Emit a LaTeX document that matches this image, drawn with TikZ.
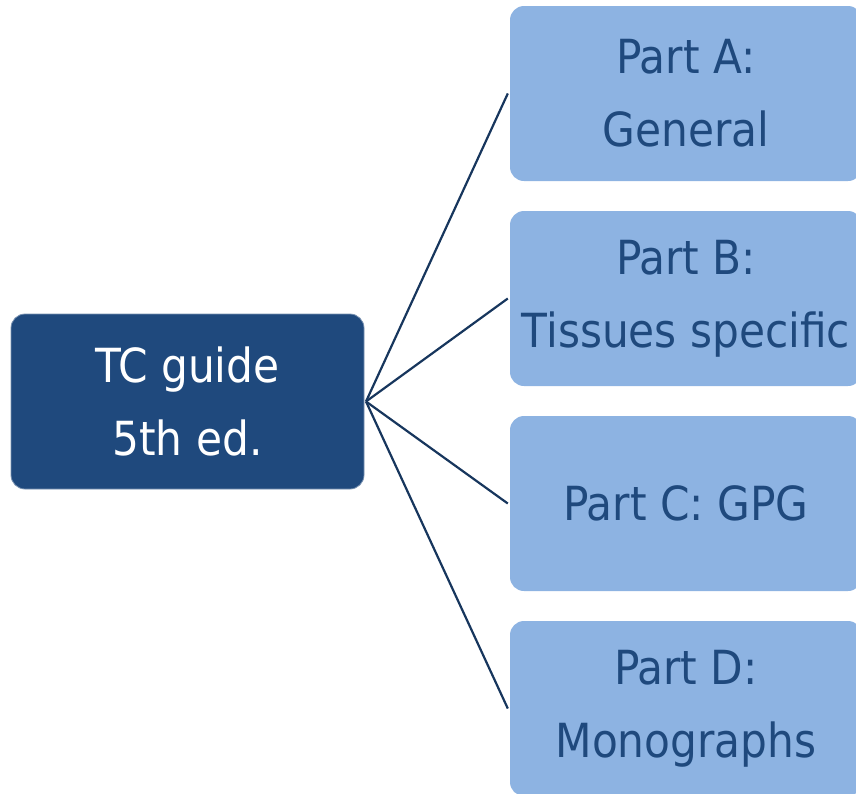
\documentclass[tikz,border=0pt]{standalone}
\usepackage{fontspec}
\setmainfont{DejaVu Sans Condensed}
\definecolor{darkbox}{RGB}{31,73,125}
\definecolor{lightbox}{RGB}{141,179,226}
\definecolor{linecol}{RGB}{23,54,93}
\begin{document}
\begin{tikzpicture}[x=1pt,y=-1pt,
  rootbox/.style={fill=darkbox, draw=darkbox!60!white, line width=0.8pt, rounded corners=14pt, minimum width=353pt, minimum height=175pt, text=white, align=center, inner sep=0pt, font=\fontsize{47}{73}\selectfont},
  partbox/.style={fill=lightbox, rounded corners=14pt, minimum width=352pt, minimum height=175pt, text=darkbox, align=center, inner sep=0pt, font=\fontsize{47}{73}\selectfont},
  link/.style={draw=linecol, line width=2.2pt}]
\useasboundingbox (0,0) rectangle (856,793);
\node[rootbox] (root) at (187.5,401.5) {TC guide\\5th ed.};
\node[partbox] (a) at (686,93.5) {Part A:\\General};
\node[partbox] (b) at (686,298.5) {Part B:\\Tissues specific};
\node[partbox] (c) at (686,503.5) {Part C: GPG};
\node[partbox] (d) at (686,708.5) {Part D:\\Monographs};
\coordinate (hub) at (366,401.5);
\foreach \n in {a,b,c,d} \draw[link] (hub) -- ([xshift=-2pt]\n.west);
\end{tikzpicture}
\end{document}
